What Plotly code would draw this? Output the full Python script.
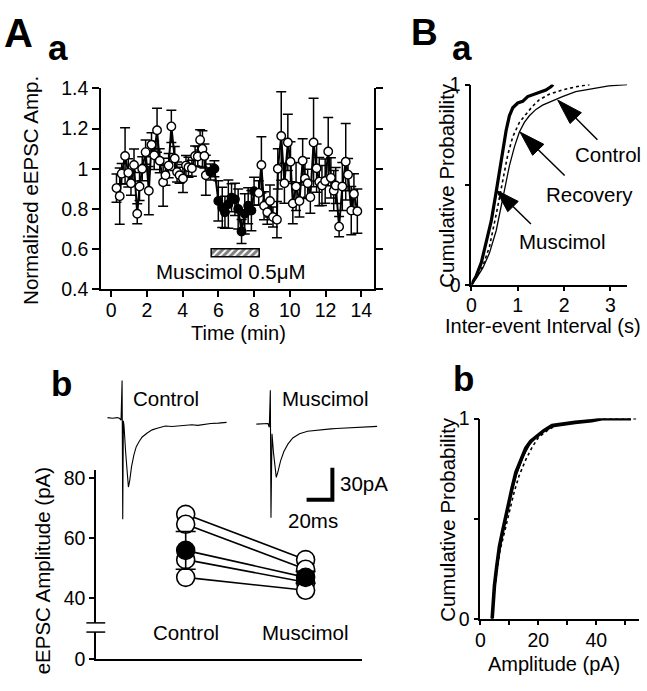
import plotly.graph_objects as go

W, H = 647, 691
FONT = "Liberation Sans, Arial, Helvetica, sans-serif"


def px(x):
    return x / W


def py(y):
    return 1 - y / H


# ---------------- Aa : normalized eEPSC amplitude vs time ----------------
time_min = [0.30, 0.48, 0.59, 0.78, 0.96, 1.11, 1.28, 1.46, 1.59, 1.74, 1.93, 2.11, 2.26, 2.41,
            2.57, 2.72, 2.91, 3.04, 3.22, 3.37, 3.56, 3.69, 3.83, 4.02, 4.19, 4.33, 4.52, 4.70,
            4.85, 4.98, 5.11, 5.22, 5.30, 5.56, 5.78, 6.00, 6.22, 6.37, 6.56, 6.74, 6.93, 7.11,
            7.30, 7.48, 7.67, 7.85, 8.00, 8.26, 8.41, 8.56, 8.74, 8.89, 9.06, 9.28, 9.33, 9.52,
            9.70, 9.89, 10.04, 10.17, 10.35, 10.54, 10.72, 10.85, 11.00, 11.15, 11.33, 11.50,
            11.65, 11.80, 11.98, 12.15, 12.30, 12.46, 12.57, 12.76, 12.94, 13.13, 13.26, 13.44,
            13.59, 13.78]
norm_amp = [0.904, 0.864, 0.976, 1.064, 0.980, 0.928, 1.019, 0.776, 0.912, 1.000, 1.083, 0.891,
            1.120, 1.067, 1.192, 1.040, 0.933, 0.968, 1.016, 1.211, 1.051, 0.984, 0.968, 0.952,
            1.016, 1.008, 1.003, 1.064, 1.061, 1.144, 1.099, 1.064, 0.968, 0.984, 1.000, 0.840,
            0.808, 0.784, 0.824, 0.856, 0.848, 0.800, 0.688, 0.776, 0.816, 0.792, 0.888, 0.880,
            1.019, 0.816, 0.784, 0.840, 0.760, 0.747, 1.000, 1.163, 0.928, 1.131, 1.035, 0.827,
            0.912, 0.840, 1.040, 0.952, 0.928, 0.859, 1.131, 1.003, 0.936, 0.917, 0.939, 1.086,
            0.955, 0.891, 0.917, 0.712, 0.912, 1.035, 0.971, 0.792, 0.875, 0.789]
norm_sem = [0.07, 0.14, 0.05, 0.14, 0.07, 0.06, 0.08, 0.05, 0.07, 0.06, 0.06, 0.12, 0.06, 0.07,
            0.11, 0.06, 0.12, 0.05, 0.06, 0.08, 0.06, 0.05, 0.04, 0.07, 0.05, 0.05, 0.04, 0.05,
            0.05, 0.05, 0.09, 0.06, 0.10, 0.04, 0.04, 0.10, 0.10, 0.08, 0.12, 0.07, 0.08, 0.10,
            0.06, 0.10, 0.09, 0.10, 0.07, 0.06, 0.14, 0.07, 0.06, 0.08, 0.05, 0.09, 0.10, 0.22,
            0.10, 0.14, 0.10, 0.10, 0.12, 0.08, 0.11, 0.10, 0.07, 0.08, 0.22, 0.12, 0.12, 0.10,
            0.11, 0.17, 0.10, 0.10, 0.09, 0.05, 0.12, 0.19, 0.08, 0.12, 0.10, 0.11]
drug_start_min, drug_end_min = 5.63, 8.32
drug_label = "Muscimol 0.5μM"
time_ticks = [0, 2, 4, 6, 8, 10, 12, 14]
amp_ticks = [0.4, 0.6, 0.8, 1.0, 1.2, 1.4]
amp_ticktext = ["0.4", "0.6", "0.8", "1", "1.2", "1.4"]

# ---------------- Ab : eEPSC amplitude per cell ----------------
conditions = ["Control", "Muscimol"]
cells_control_pA = [68.0, 64.7, 52.9, 47.0]
cells_muscimol_pA = [52.9, 49.7, 45.4, 42.7]
mean_pA = [56.0, 47.0]
sem_pA = [6.3, 2.0]
ab_ticks = [40, 60, 80]

# example traces (ms, pA relative to baseline)
ctrl_trace_ms = [0, 3.85, 7.7, 9.5, 10.5, 11.3, 11.8, 12.3, 12.8, 14.1, 15.4, 16.2, 17.2, 18.7,
                 20.5, 22.3, 24.4, 26.9, 30.8, 34.6, 38.5, 44.9, 50.0, 55.1, 60.0, 65.4, 70.0,
                 75.7, 80.0, 85.9, 92.3]
ctrl_trace_pA = [0, -0.6, 0, -0.9, -2.4, 34.8, -95.5, -3.0, -7.6, -33.3, -57.6, -65.2, -59.1,
                 -45.5, -34.8, -27.3, -22.7, -18.2, -14.5, -11.5, -10.0, -7.9, -8.4, -7.6, -6.9,
                 -6.7, -7.3, -6.1, -5.6, -5.2, -4.5]
mus_trace_ms = [0, 5.1, 9.0, 10.0, 10.8, 11.3, 12.1, 13.3, 15.4, 16.7, 18.7, 21.3, 24.4, 28.2,
                33.4, 39.7, 47.4, 52.0, 57.7, 62.0, 67.9, 74.0, 80.8, 87.0, 93.6]
mus_trace_pA = [0, 0, 0.6, -3.0, 31.8, -87.9, -9.1, -27.3, -50.0, -44.8, -34.8, -25.7, -18.8,
                -13.0, -9.1, -6.7, -5.5, -5.0, -4.5, -4.1, -3.6, -3.4, -3.0, -2.6, -2.1]
scale_ms, scale_pA = 20, 30

# ---------------- Ba : inter-event interval cumulative ----------------
ctrl_iei_s = [0, 0.107, 0.25, 0.39, 0.536, 0.643, 0.736, 0.82, 0.93, 1.036, 1.143, 1.25, 1.393,
              1.536, 1.75, 1.964, 2.25, 2.607, 2.964, 3.36]
ctrl_iei_p = [0, 0.032, 0.085, 0.158, 0.271, 0.384, 0.497, 0.594, 0.69, 0.763, 0.811, 0.844,
              0.876, 0.897, 0.919, 0.94, 0.965, 0.981, 0.994, 1.0]
mus_iei_s = [0, 0.107, 0.214, 0.32, 0.43, 0.536, 0.607, 0.679, 0.75, 0.82, 0.893, 1.0, 1.107,
             1.214, 1.32, 1.464, 1.607, 1.714, 1.764]
mus_iei_p = [0, 0.045, 0.11, 0.206, 0.32, 0.465, 0.569, 0.674, 0.771, 0.844, 0.884, 0.908,
             0.916, 0.94, 0.95, 0.961, 0.973, 0.989, 1.0]
rec_iei_s = [0, 0.107, 0.25, 0.39, 0.536, 0.679, 0.786, 0.893, 1.036, 1.179, 1.32, 1.464, 1.679,
             1.964, 2.25, 2.55]
rec_iei_p = [0, 0.037, 0.094, 0.19, 0.352, 0.529, 0.65, 0.739, 0.811, 0.852, 0.892, 0.924,
             0.952, 0.973, 0.989, 1.0]

# ---------------- Bb : amplitude cumulative ----------------
ctrl_amp = [4.09, 4.6, 5.5, 6.9, 8.5, 10.3, 12.5, 14.8, 17.0, 19.5, 22.5, 25.5, 33.0, 42.0, 52.0]
ctrl_amp_p = [0, 0.1, 0.22, 0.36, 0.48, 0.6, 0.72, 0.81, 0.87, 0.91, 0.945, 0.968, 0.982, 1.0, 1.0]
mus_amp = [4.09, 4.32, 4.89, 5.68, 6.59, 7.73, 8.86, 9.77, 10.9, 12.27, 13.98, 15.68, 17.39,
           19.66, 21.9, 24.77, 28.2, 32.7, 38.4, 42.4, 52.0]
mus_amp_p = [0, 0.069, 0.166, 0.263, 0.36, 0.44, 0.521, 0.577, 0.65, 0.731, 0.795, 0.852, 0.887,
             0.916, 0.94, 0.965, 0.973, 0.981, 0.989, 1.0, 1.0]
rec_amp = [4.09, 4.89, 6.59, 8.3, 10.0, 11.7, 13.4, 15.7, 18.0, 20.2, 23.1, 25.9, 32.7, 43.0, 53.75]
rec_amp_p = [0, 0.15, 0.327, 0.432, 0.537, 0.634, 0.715, 0.795, 0.86, 0.908, 0.94, 0.965, 0.981,
             1.0, 1.0]

# =======================================================================
fig = go.Figure()

# Aa
filled = [drug_start_min - 0.15 <= t <= drug_end_min - 0.2 for t in time_min]
fig.add_trace(go.Scatter(x=time_min, y=norm_amp, mode="lines",
                         line=dict(color="black", width=2), xaxis="x", yaxis="y"))
fig.add_trace(go.Scatter(
    x=time_min, y=norm_amp, mode="markers",
    error_y=dict(type="data", array=norm_sem, color="black", thickness=1.5, width=5),
    marker=dict(size=8.5, color=["black" if f else "white" for f in filled],
                line=dict(color="black", width=1.4)),
    xaxis="x", yaxis="y"))
fig.add_trace(go.Bar(
    x=[(drug_start_min + drug_end_min) / 2], y=[0.04], base=[0.56],
    width=[drug_end_min - drug_start_min],
    marker=dict(color="white", line=dict(color="black", width=1.5),
                pattern=dict(shape="/", fgcolor="black", bgcolor="white", size=5, solidity=0.6)),
    xaxis="x", yaxis="y"))

# EPSC traces (hidden axes)
MUS_T0, MUS_I0 = 115.4, -6.1
fig.add_trace(go.Scatter(x=ctrl_trace_ms, y=ctrl_trace_pA, mode="lines",
                         line=dict(color="black", width=1.1), xaxis="x5", yaxis="y6"))
fig.add_trace(go.Scatter(x=[t + MUS_T0 for t in mus_trace_ms],
                         y=[v + MUS_I0 for v in mus_trace_pA], mode="lines",
                         line=dict(color="black", width=1.1), xaxis="x5", yaxis="y6"))
SB_T, SB_I = 174.3, -77.0
fig.add_trace(go.Scatter(x=[SB_T - scale_ms, SB_T, SB_T], y=[SB_I, SB_I, SB_I + scale_pA],
                         mode="lines", line=dict(color="black", width=4),
                         xaxis="x5", yaxis="y6"))

# Ab
fig.add_trace(go.Scatter(x=[], y=[], mode="markers", xaxis="x3", yaxis="y4",
                         hoverinfo="skip"))
for c, m in zip(cells_control_pA, cells_muscimol_pA):
    fig.add_trace(go.Scatter(x=conditions, y=[c, m], mode="lines",
                             line=dict(color="black", width=1.6), xaxis="x3", yaxis="y3"))
fig.add_trace(go.Scatter(x=conditions, y=mean_pA, mode="lines",
                         line=dict(color="black", width=1.6), xaxis="x3", yaxis="y3"))
fig.add_trace(go.Scatter(x=[conditions[0]] * len(cells_control_pA) + [conditions[1]] * len(cells_muscimol_pA),
                         y=cells_control_pA + cells_muscimol_pA, mode="markers",
                         marker=dict(size=18, color="white", line=dict(color="black", width=1.6)),
                         xaxis="x3", yaxis="y3"))
fig.add_trace(go.Scatter(x=conditions, y=mean_pA, mode="markers",
                         error_y=dict(type="data", array=sem_pA, color="black", thickness=1.6, width=10),
                         marker=dict(size=18, color="black", line=dict(color="black", width=1.6)),
                         xaxis="x3", yaxis="y3"))

# Ba
fig.add_trace(go.Scatter(x=ctrl_iei_s, y=ctrl_iei_p, mode="lines",
                         line=dict(color="black", width=1.3), xaxis="x2", yaxis="y2"))
fig.add_trace(go.Scatter(x=rec_iei_s, y=rec_iei_p, mode="lines",
                         line=dict(color="black", width=1.6, dash="dot"), xaxis="x2", yaxis="y2"))
fig.add_trace(go.Scatter(x=mus_iei_s, y=mus_iei_p, mode="lines",
                         line=dict(color="black", width=3.2), xaxis="x2", yaxis="y2"))

# Bb
fig.add_trace(go.Scatter(x=ctrl_amp, y=ctrl_amp_p, mode="lines",
                         line=dict(color="black", width=1.3), xaxis="x4", yaxis="y5"))
fig.add_trace(go.Scatter(x=rec_amp, y=rec_amp_p, mode="lines",
                         line=dict(color="black", width=1.6, dash="dot"), xaxis="x4", yaxis="y5"))
fig.add_trace(go.Scatter(x=mus_amp, y=mus_amp_p, mode="lines",
                         line=dict(color="black", width=3.6), xaxis="x4", yaxis="y5"))

# ---------------- axes ----------------
tickfont = dict(family=FONT, size=19.5, color="black")
base = dict(showline=True, linecolor="black", linewidth=1.5, ticks="outside", tickcolor="black",
            tickwidth=1.5, showgrid=False, zeroline=False, tickfont=tickfont, fixedrange=True)

layout_axes = dict(
    xaxis=dict(base, domain=[px(96.7), px(372)], range=[-0.57, 14.72], anchor="y",
               tickvals=time_ticks, ticklen=6, ticklabelstandoff=-3),
    yaxis=dict(base, domain=[py(287.5), py(80)], range=[0.4, 1.4], anchor="x",
               tickvals=amp_ticks, ticktext=amp_ticktext, mirror="ticks", ticklen=7),
    xaxis2=dict(base, domain=[px(470), px(627)], range=[0, 3.36], anchor="y2",
                tickvals=[0, 1, 2, 3], ticklen=5, ticklabelstandoff=-3),
    yaxis2=dict(base, domain=[py(282.7), py(76)], range=[0, 1], anchor="x2",
                tickvals=[0, 0.5, 1], ticktext=["0", "", "1"], ticklen=5),
    xaxis3=dict(base, domain=[px(91.7), px(360)], type="category", range=[-0.748, 1.472],
                anchor="y4", ticks="", showticklabels=False),
    yaxis3=dict(base, domain=[py(632), py(474)], range=[31.84, 82.8], anchor="x3",
                tickvals=ab_ticks, ticklen=5),
    yaxis4=dict(base, domain=[py(669), py(641.5)], range=[0, 8.87], anchor="x3",
                tickvals=[0], ticklen=5),
    xaxis4=dict(base, domain=[px(479), px(638.5)], range=[0, 54.6], anchor="y5",
                tickvals=[0, 10, 20, 30, 40, 50], ticktext=["0", "", "20", "", "40", ""],
                ticklen=5, ticklabelstandoff=-2),
    yaxis5=dict(base, domain=[py(627.7), py(421)], range=[0, 1], anchor="x4",
                tickvals=[0, 0.5, 1], ticktext=["0", "", "1"], ticklen=5),
    xaxis5=dict(domain=[px(100), px(390)], range=[-2.54, 220.5], visible=False, anchor="y6",
                fixedrange=True),
    yaxis6=dict(domain=[py(530), py(372)], range=[-100, 43.6], visible=False, anchor="x5",
                fixedrange=True),
)


def txt(s, x, y, size=20.5, bold=False, angle=0, xanchor="center"):
    return dict(text=f"<b>{s}</b>" if bold else s, x=px(x), y=py(y), xref="paper", yref="paper",
                showarrow=False, textangle=angle, xanchor=xanchor, yanchor="middle",
                font=dict(family=FONT, size=size, color="black"))


annotations = [
    txt("A", 14, 23, size=40, bold=True),
    txt("a", 53, 38, size=35, bold=True),
    txt("B", 423, 22, size=37, bold=True),
    txt("a", 461, 38, size=35, bold=True),
    txt("b", 57, 385, size=35, bold=True),
    txt("b", 462, 380, size=35, bold=True),
    txt("Normalized eEPSC Amp.", 25, 185, angle=-90),
    txt("Time (min)", 235, 333, size=20),
    txt(drug_label, 228, 269),
    txt("eEPSC Amplitude (pA)", 38, 578, angle=-90),
    txt("Control", 127, 400, xanchor="left"),
    txt("Muscimol", 277, 400, xanchor="left"),
    txt("30pA", 336, 488, xanchor="left"),
    txt("20ms", 310, 526),
    txt("Cumulative Probability", 445, 180, angle=-90),
    txt("Inter-event Interval (s)", 542, 325, size=20),
    txt("Control", 608, 148),
    txt("Recovery", 589, 190),
    txt("Muscimol", 562, 238),
    txt("Cumulative Probability", 446, 525, angle=-90),
    txt("Amplitude (pA)", 553, 674, size=20),
]
for i, name in enumerate(conditions):
    annotations.append(dict(text=name, x=i, y=py(641.7), xref="x3", yref="paper",
                            showarrow=False, xanchor="center", yanchor="middle",
                            font=dict(family=FONT, size=20.5, color="black")))

shapes = []
# axis break marks
for yb in (632, 641.5):
    shapes.append(dict(type="line", xref="paper", yref="paper", x0=px(82), x1=px(101),
                       y0=py(yb), y1=py(yb), line=dict(color="black", width=1.5)))


def arrow(tip, tail, hl=26, hw=16):
    (tx, ty), (sx, sy) = tip, tail
    dx, dy = tx - sx, ty - sy
    L = (dx * dx + dy * dy) ** 0.5
    ux, uy = dx / L, dy / L
    bx, by = tx - ux * hl, ty - uy * hl
    nx, ny = -uy, ux
    p1 = (bx + nx * hw / 2, by + ny * hw / 2)
    p2 = (bx - nx * hw / 2, by - ny * hw / 2)
    path = (f"M{px(tx)},{py(ty)} L{px(p1[0])},{py(p1[1])} "
            f"L{px(p2[0])},{py(p2[1])} Z")
    return [dict(type="line", xref="paper", yref="paper", x0=px(sx), y0=py(sy),
                 x1=px(bx), y1=py(by), line=dict(color="black", width=1.5)),
            dict(type="path", xref="paper", yref="paper", path=path,
                 fillcolor="black", line=dict(color="black", width=1))]


shapes += arrow((557, 92), (597, 133))
shapes += arrow((519, 125), (564, 170))
shapes += arrow((495, 185), (530, 220), hl=24, hw=15)

fig.update_layout(
    width=W, height=H, margin=dict(l=0, r=0, t=0, b=0),
    paper_bgcolor="white", plot_bgcolor="rgba(0,0,0,0)", showlegend=False,
    annotations=annotations, shapes=shapes, bargap=0,
    **layout_axes,
)

fig.write_html("out.html", config={"displayModeBar": False},
               post_script="document.body.style.margin='0';document.body.style.padding='0';")
